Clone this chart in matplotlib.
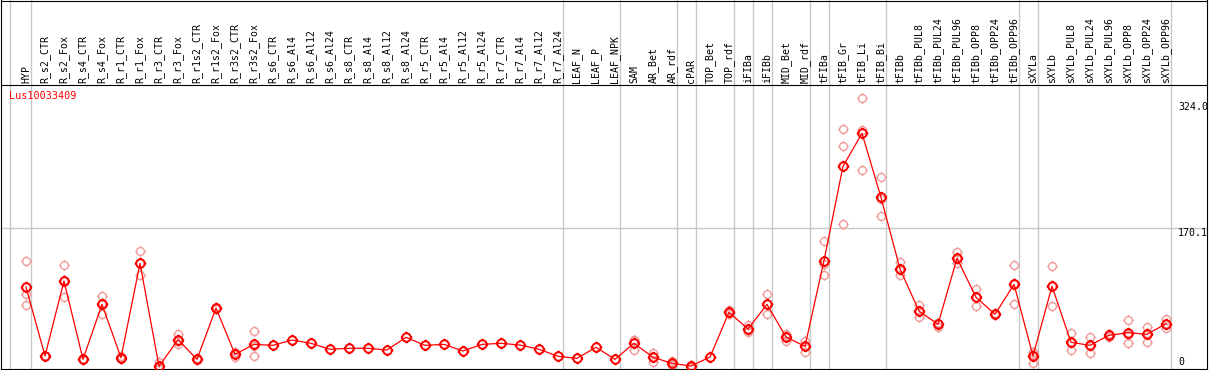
import matplotlib
matplotlib.use("Agg")
import matplotlib.pyplot as plt
from matplotlib.path import Path
from matplotlib.lines import Line2D
import numpy as np

# ---------------- data ----------------
gene_id = "Lus10033409"
samples = ["HYP", "R_s2_CTR", "R_s2_Fox", "R_s4_CTR", "R_s4_Fox", "R_r1_CTR", "R_r1_Fox",
           "R_r3_CTR", "R_r3_Fox", "R_r1s2_CTR", "R_r1s2_Fox", "R_r3s2_CTR", "R_r3s2_Fox",
           "R_s6_CTR", "R_s6_Al4", "R_s6_Al12", "R_s6_Al24", "R_s8_CTR", "R_s8_Al4", "R_s8_Al12",
           "R_s8_Al24", "R_r5_CTR", "R_r5_Al4", "R_r5_Al12", "R_r5_Al24", "R_r7_CTR", "R_r7_Al4",
           "R_r7_Al12", "R_r7_Al24", "LEAF_N", "LEAF_P", "LEAF_NPK", "SAM", "AR_Bet", "AR_rdf",
           "cPAR", "TOP_Bet", "TOP_rdf", "iFIBa", "iFIBb", "MID_Bet", "MID_rdf", "tFIBa",
           "tFIB_Gr", "tFIB_Li", "tFIB_Bi", "tFIBb", "tFIBb_PUL8", "tFIBb_PUL24", "tFIBb_PUL96",
           "tFIBb_OPP8", "tFIBb_OPP24", "tFIBb_OPP96", "sXYLa", "sXYLb", "sXYLb_PUL8",
           "sXYLb_PUL24", "sXYLb_PUL96", "sXYLb_OPP8", "sXYLb_OPP24", "sXYLb_OPP96"]

means = [97.9, 13.5, 105.3, 9.4, 76.7, 11.4, 126.9, 0.8, 33.4, 9.4, 72.2, 15.5, 27.7,
         26.5, 33.0, 29.0, 21.7, 22.9, 22.9, 20.8, 36.3, 26.5, 27.7, 19.6, 27.7, 29.0, 26.9,
         21.7, 13.1, 10.6, 24.1, 9.4, 29.0, 11.9, 4.5, 1.2, 12.2, 67.0, 46.5, 76.7, 36.7,
         25.3, 130.1, 245.7, 286.0, 207.7, 120.0, 68.5, 52.3, 133.0, 85.3, 64.5, 101.2,
         13.5, 98.8, 30.2, 26.5, 38.8, 42.0, 40.0, 53.0]

rep_a = [129.4, 13.0, 124.5, 8.5, 86.5, 9.4, 141.6, 6.5, 40.8, 8.0, 72.2, 18.0, 43.7,
         None, None, None, None, None, None, None, None, None, None, None, None, None, None,
         None, None, None, None, None, 33.0, 17.5, 7.3, 2.5, None, 69.8, 51.4, 89.0, 40.4,
         31.8, 153.9, 290.9, 328.9, 232.2, 128.5, 75.9, 49.3, 140.4, 95.1, 65.5, 124.5,
         18.7, 123.3, 41.2, 36.3, 40.0, 57.5, 48.6, 58.8]
rep_b = [89.4, 14.0, 85.3, 10.3, 65.3, 13.5, 112.2, 0.0, 27.7, 10.5, 71.5, 12.6, 13.1,
         None, None, None, None, None, None, None, None, None, None, None, None, None, None,
         None, None, None, None, None, 20.4, 5.7, 3.0, 0.5, None, 65.0, 42.5, 64.5, 32.2,
         18.7, 112.2, 270.1, 290.1, 184.8, 112.2, 61.6, 54.0, 126.9, 75.0, 63.5, 76.7,
         5.3, 74.3, 20.4, 17.5, 36.5, 29.0, 30.2, 47.7]
rep_c = [75.5, 13.5, 106.0, 9.4, 78.3, 11.3, 126.9, 0.0, 31.7, 9.7, 73.0, 15.9, 26.3,
         None, None, None, None, None, None, None, None, None, None, None, None, None, None,
         None, None, None, None, None, 33.6, 12.5, 3.2, 0.6, None, 66.2, 45.6, 76.6, 37.5,
         25.4, 125.7, 174.7, 240.8, 206.1, 119.3, 68.0, 53.6, 131.7, 85.8, 64.5, 102.4,
         16.5, 98.8, 29.0, 25.7, 39.9, 39.5, 41.2, 52.5]

# group separators: drawn after these samples
group_ends = ["HYP", "R_r7_Al24", "LEAF_NPK", "AR_rdf", "cPAR", "TOP_rdf", "iFIBa", "iFIBb",
              "MID_rdf", "tFIBa", "tFIB_Bi", "tFIBb_OPP96", "sXYLa", "sXYLb_OPP96"]

y_ticks = [324.0, 170.1, 0]
y_tick_labels = ["324.0", "170.1", "0"]

# ---------------- figure ----------------
W, H = 1209, 370
fig = plt.figure(figsize=(W / 100, H / 100), dpi=100)

# pixel geometry
ax_l, ax_r, ax_t, ax_b = 1, 1207, 85, 369
ax = fig.add_axes([ax_l / W, 1 - ax_b / H, (ax_r - ax_l) / W, (ax_b - ax_t) / H])

x0_px, dx_px = 26, 19          # first sample pixel position and spacing
y0_px, ky = 367, 0.817         # pixel of value 0, pixels per unit
ax.set_xlim((ax_l - x0_px) / dx_px, (ax_r - x0_px) / dx_px)
ax.set_ylim((y0_px - ax_b) / ky, (y0_px - ax_t) / ky)

mono = "DejaVu Sans Mono"
gray = "#c8c8c8"
red = "#ff0000"
pink = "#f09a9a"

# custom marker: circle with little ticks at N/S/E/W
circ = Path.unit_circle()
ticks = []
for (a, b) in [((0, 1), (0, 1.35)), ((0, -1), (0, -1.35)), ((1, 0), (1.35, 0)), ((-1, 0), (-1.35, 0))]:
    ticks.append(Path([a, b], [Path.MOVETO, Path.LINETO]))
marker_path = Path.make_compound_path(circ, *ticks)

xs = np.arange(len(samples))

# separators
ext = (ax_b - 0) / (ax_b - ax_t)
sep_x = [-0.84] + [samples.index(s) + 0.24 for s in group_ends]
for sx in sep_x:
    ax.axvline(sx, ymin=0, ymax=ext, color=gray, lw=1.0, clip_on=False, zorder=1)
ax.axhline(y_ticks[1], color=gray, lw=1.0, zorder=1)

# replicates
for reps in (rep_a, rep_b, rep_c):
    rx = [x for x, v in zip(xs, reps) if v is not None]
    ry = [v for v in reps if v is not None]
    ax.plot(rx, ry, linestyle="none", marker=marker_path, markersize=7.6,
            markerfacecolor="none", markeredgecolor=pink, markeredgewidth=1.0, zorder=2)

# means
ax.plot(xs, means, color=red, lw=0.9, zorder=3)
ax.plot(xs, means, linestyle="none", marker=marker_path, markersize=8.2,
        markerfacecolor="none", markeredgecolor=red, markeredgewidth=1.4, zorder=4)

# top tick labels
ax.xaxis.tick_top()
ax.set_xticks(xs)
ax.set_xticklabels(samples, rotation=90, fontfamily=mono, fontsize=7.1)
ax.tick_params(axis="x", length=0, pad=1.5)
ax.set_yticks([])

# right value labels
lab_x = (1178 - x0_px) / dx_px
for v, t in zip(y_ticks, y_tick_labels):
    ax.text(lab_x, v, t, ha="left", va=("bottom" if v == 0 else "top"),
            fontfamily=mono, fontsize=7.1, color="black", zorder=5)

# gene id
ax.text((9 - x0_px) / dx_px, (y0_px - 96) / ky, gene_id, ha="left", va="center",
        fontfamily=mono, fontsize=7.3, color=red, zorder=5)

for sp in ax.spines.values():
    sp.set_color("black")
    sp.set_linewidth(0.8)

# outer frame extending over label area
def fx(x):
    return x / W
def fy(y):
    return 1 - y / H
fig.add_artist(Line2D([fx(ax_l), fx(ax_r)], [fy(0.5), fy(0.5)], color="black", lw=0.8))
fig.add_artist(Line2D([fx(ax_l), fx(ax_l)], [fy(0), fy(ax_t)], color="black", lw=0.8))
fig.add_artist(Line2D([fx(ax_r), fx(ax_r)], [fy(0), fy(ax_t)], color="black", lw=0.8))

fig.savefig("out.png", dpi=100)
